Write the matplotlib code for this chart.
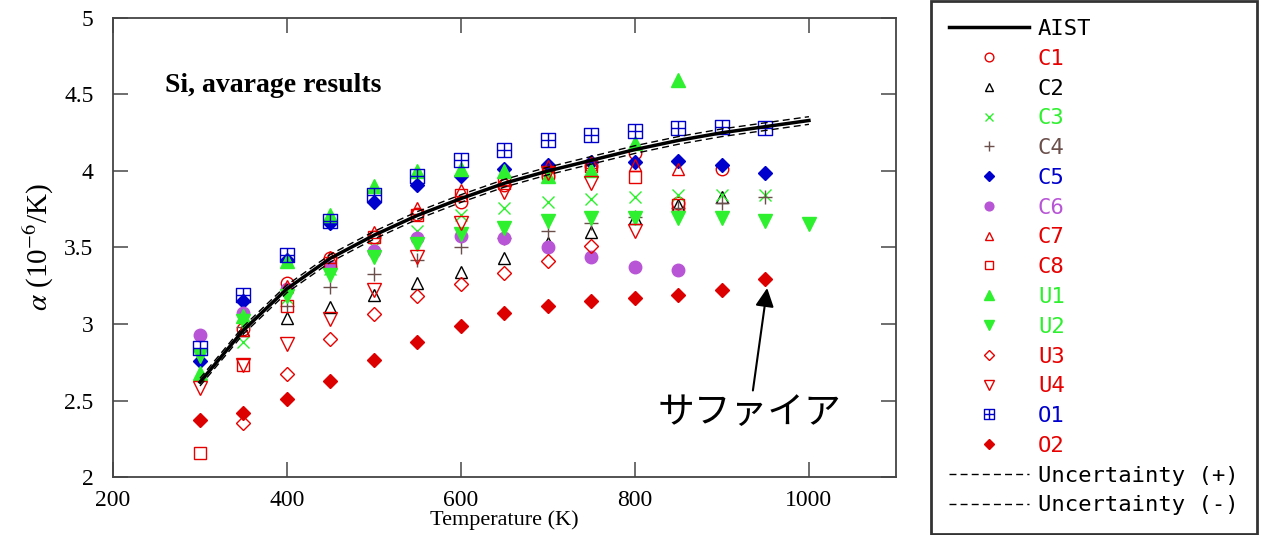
import matplotlib.pyplot as plt
from matplotlib.path import Path

plt.rcParams['font.family'] = 'Liberation Serif'
plt.rcParams['mathtext.fontset'] = 'stix'

# temperatures (K)
T = [300, 350, 400, 450, 500, 550, 600, 650, 700, 750, 800, 850, 900, 950, 1000]

aist = [2.62, 2.96, 3.23, 3.43, 3.58, 3.71, 3.82, 3.92, 4.00, 4.07, 4.14, 4.20, 4.25, 4.29, 4.33]
unc_plus = [2.645, 2.985, 3.255, 3.455, 3.605, 3.735, 3.845, 3.945, 4.025, 4.095, 4.165, 4.225, 4.275, 4.315, 4.355]
unc_minus = [2.595, 2.935, 3.205, 3.405, 3.555, 3.685, 3.795, 3.895, 3.975, 4.045, 4.115, 4.175, 4.225, 4.265, 4.305]

c1 = [2.97, 3.27, 3.43, 3.57, 3.72, 3.80, 3.91, 3.97, 4.03, 4.115, 3.79, 4.01]          # 350-900
c2 = [2.96, 3.04, 3.11, 3.19, 3.27, 3.34, 3.43, 3.53, 3.60, 3.69, 3.78, 3.83]           # 350-900
c3 = [2.885, 3.17, 3.36, 3.505, 3.61, 3.71, 3.76, 3.80, 3.82, 3.83, 3.84, 3.84, 3.84]   # 350-950
c4 = [2.98, 3.12, 3.24, 3.33, 3.42, 3.50, 3.56, 3.61, 3.66, 3.70, 3.76, 3.79, 3.83]     # 350-950
c5 = [2.76, 3.15, 3.42, 3.66, 3.80, 3.91, 3.97, 4.01, 4.04, 4.06, 4.06, 4.065, 4.04, 3.99]  # 300-950
c6 = [2.93, 3.07, 3.23, 3.375, 3.48, 3.56, 3.575, 3.56, 3.505, 3.44, 3.375, 3.35]      # 300-850
c7 = [2.96, 3.25, 3.44, 3.60, 3.76, 3.875, 3.94, 4.03, 4.06, 4.04, 4.01]               # 350-850
c8 = [2.16, 2.73, 3.12, 3.40, 3.57, 3.71, 3.84, 3.92, 3.99, 4.03, 3.96, 3.78]          # 300-850
u1 = [2.68, 3.05, 3.41, 3.71, 3.90, 4.00, 4.01, 4.00, 3.97, 4.005, 4.185, 4.595]       # 300-850
u2 = [2.79, 3.02, 3.18, 3.32, 3.44, 3.52, 3.59, 3.63, 3.675, 3.69, 3.69, 3.69, 3.69, 3.67, 3.655]  # 300-1000
u3 = [2.35, 2.67, 2.90, 3.065, 3.18, 3.26, 3.335, 3.41, 3.51]                          # 350-750
u4 = [2.58, 2.73, 2.87, 3.03, 3.22, 3.44, 3.66, 3.86, 3.985, 3.92, 3.61]               # 300-800
o1 = [2.84, 3.19, 3.45, 3.67, 3.84, 3.97, 4.07, 4.14, 4.20, 4.235, 4.26, 4.28, 4.29, 4.28]  # 300-950
o2 = [2.37, 2.42, 2.51, 2.63, 2.765, 2.88, 2.99, 3.07, 3.12, 3.15, 3.17, 3.19, 3.22, 3.295]  # 300-950

red = '#e60000'
green = '#2ef02e'
blue = '#0000cc'
purple = '#b855d6'
brown = '#6a4f4b'

# square with cross inside
grid_sq = Path([(-1, -1), (1, -1), (1, 1), (-1, 1), (-1, -1), (0, -1), (0, 1), (-1, 0), (1, 0)],
               [Path.MOVETO, Path.LINETO, Path.LINETO, Path.LINETO, Path.CLOSEPOLY,
                Path.MOVETO, Path.LINETO, Path.MOVETO, Path.LINETO])

fig = plt.figure(figsize=(12.61, 5.35), dpi=100)
ax = fig.add_axes([0.0896, 0.1084, 0.6209, 0.8580])

ms = 9
ax.plot(T[1:13], c1, 'o', ms=ms, mfc='none', mec=red, mew=1, label='C1')
ax.plot(T[1:13], c2, '^', ms=ms, mfc='none', mec='black', mew=1, label='C2')
ax.plot(T[1:14], c3, 'x', ms=ms, color=green, mew=1, label='C3')
ax.plot(T[1:14], c4, '+', ms=ms + 1, color=brown, mew=1, label='C4')
ax.plot(T[0:14], c5, 'D', ms=7, color=blue, label='C5')
ax.plot(T[0:12], c6, 'o', ms=ms, color=purple, label='C6')
ax.plot(T[1:12], c7, '^', ms=ms, mfc='none', mec=red, mew=1, label='C7')
ax.plot(T[0:12], c8, 's', ms=ms, mfc='none', mec=red, mew=1, label='C8')
ax.plot(T[0:12], u1, '^', ms=ms + 1, color=green, label='U1')
ax.plot(T[0:15], u2, 'v', ms=ms + 1, color=green, label='U2')
ax.plot(T[1:10], u3, 'D', ms=7, mfc='none', mec=red, mew=1, label='U3')
ax.plot(T[0:11], u4, 'v', ms=ms + 1, mfc='none', mec=red, mew=1, label='U4')
ax.plot(T[0:14], o1, marker=grid_sq, ls='none', ms=ms + 1, mfc='none', mec=blue, mew=1, label='O1')
ax.plot(T[0:14], o2, 'D', ms=7, color='#dd0000', label='O2')
ax.plot(T, unc_plus, color='black', lw=1, ls=(0, (5, 3)), label='Uncertainty (+)', zorder=3)
ax.plot(T, unc_minus, color='black', lw=1, ls=(0, (5, 3)), label='Uncertainty (-)', zorder=3)
ax.plot(T, aist, color='black', lw=2.5, label='AIST', zorder=4)

ax.set_xlim(200, 1100)
ax.set_ylim(2, 5)
ax.set_xticks([200, 400, 600, 800, 1000])
ax.set_yticks([2, 2.5, 3, 3.5, 4, 4.5, 5])
ax.set_yticklabels(['2', '2.5', '3', '3.5', '4', '4.5', '5'])
ax.tick_params(direction='in', length=11, width=1.2, top=True, right=True,
               labelsize=17, color='#555555')
ax.tick_params(axis='y', pad=14)
ax.tick_params(axis='x', pad=9)
for s in ax.spines.values():
    s.set_color('#444444')
    s.set_linewidth(1.3)

ax.set_xlabel('Temperature (K)', fontsize=16, labelpad=0)
ax.set_ylabel(r'$\alpha$ (10$^{-6}$/K)', fontsize=21, labelpad=6)

ax.text(260, 4.56, 'Si, avarage results', fontsize=20, fontweight='bold', va='center')

ax.annotate('サファイア', xy=(952, 3.235), xytext=(932, 2.42), ha='center', va='center',
            fontsize=26.5, family=['Noto Sans CJK JP', 'DejaVu Sans'],
            arrowprops=dict(arrowstyle='-|>', color='black', lw=1.5, mutation_scale=28,
                            shrinkA=0, shrinkB=0))

# legend, in the order of the reference
h, l = ax.get_legend_handles_labels()
order = ['AIST', 'C1', 'C2', 'C3', 'C4', 'C5', 'C6', 'C7', 'C8', 'U1', 'U2', 'U3', 'U4',
         'O1', 'O2', 'Uncertainty (+)', 'Uncertainty (-)']
hs = [h[l.index(k)] for k in order]
leg = fig.legend(hs, order, loc='upper left', bbox_to_anchor=(0.738, 0.002, 0.259, 0.997),
                 mode='expand', borderaxespad=0, fancybox=False, edgecolor='black',
                 prop={'family': 'DejaVu Sans Mono', 'size': 16}, handlelength=3.6,
                 handletextpad=0.4, borderpad=0.83, labelspacing=0.44, markerscale=0.7)
leg.get_frame().set_linewidth(2)
text_colors = ['black', red, 'black', green, brown, blue, purple, red, red, green, green,
               red, red, blue, red, 'black', 'black']
for t, c in zip(leg.get_texts(), text_colors):
    t.set_color(c)

fig.savefig('out.png', dpi=100)
